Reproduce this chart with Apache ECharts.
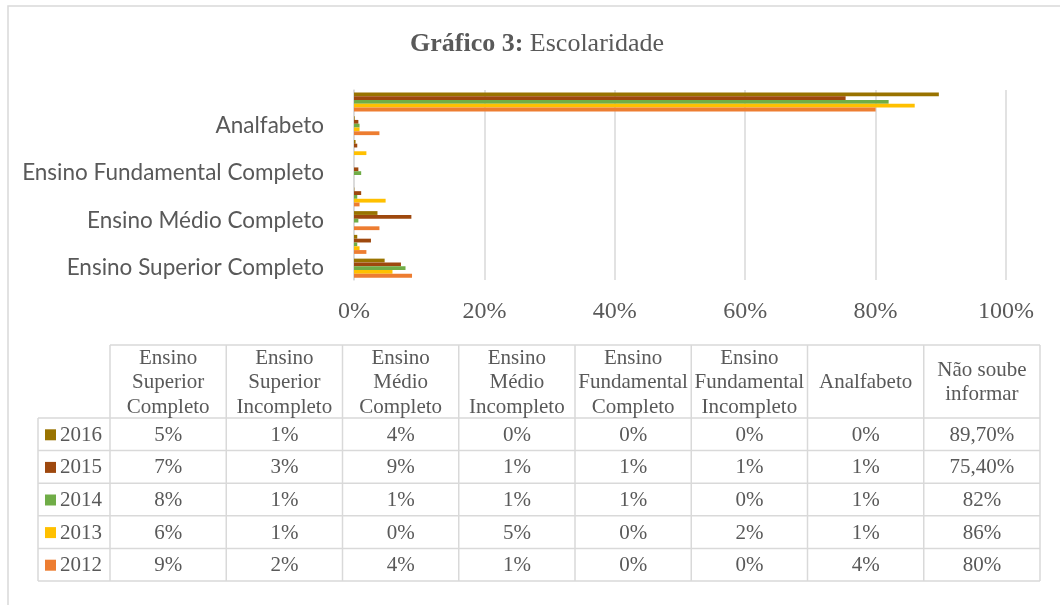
<!DOCTYPE html>
<html>
<head>
<meta charset="utf-8">
<script src="https://cdn.jsdelivr.net/npm/echarts@6/dist/echarts.min.js"></script>
<style>
  html, body { margin: 0; padding: 0; background: #fff; }
  #chart { width: 1060px; height: 605px; }
</style>
</head>
<body>
<div id="chart"></div>
<script>
  // categorias (de baixo para cima no gráfico)
  const categories = ['Ensino Superior Completo', 'Ensino Superior Incompleto', 'Ensino Médio Completo', 'Ensino Médio Incompleto',
    'Ensino Fundamental Completo', 'Ensino Fundamental Incompleto', 'Analfabeto', 'Não soube informar'];
  const tableHeaders = ['Ensino\nSuperior\nCompleto', 'Ensino\nSuperior\nIncompleto', 'Ensino\nMédio\nCompleto', 'Ensino\nMédio\nIncompleto',
    'Ensino\nFundamental\nCompleto', 'Ensino\nFundamental\nIncompleto', 'Analfabeto', 'Não soube\ninformar'];
  // ordem de cima para baixo dentro de cada grupo
  const years = ['2016', '2015', '2014', '2013', '2012'];
  const colors = ['#997300', '#9E480E', '#70AD47', '#FFC000', '#ED7D31'];

  const v2016 = [4.7, 0.5, 3.6, 0.05, 0, 0.24, 0.1, 89.7];
  const v2015 = [7.2, 2.6, 8.8, 1.1, 0.67, 0.5, 0.67, 75.4];
  const v2014 = [7.9, 0.5, 0.67, 0.5, 1.1, 0, 0.85, 82.0];
  const v2013 = [5.9, 0.85, 0, 4.85, 0, 1.9, 0.85, 86.0];
  const v2012 = [8.9, 1.9, 3.9, 0.85, 0, 0, 3.9, 80.0];
  const values = [v2016, v2015, v2014, v2013, v2012];

  // texto da tabela de dados
  const t2016 = ['5%', '1%', '4%', '0%', '0%', '0%', '0%', '89,70%'];
  const t2015 = ['7%', '3%', '9%', '1%', '1%', '1%', '1%', '75,40%'];
  const t2014 = ['8%', '1%', '1%', '1%', '1%', '0%', '1%', '82%'];
  const t2013 = ['6%', '1%', '0%', '5%', '0%', '2%', '1%', '86%'];
  const t2012 = ['9%', '2%', '4%', '1%', '0%', '0%', '4%', '80%'];
  const tableText = [t2016, t2015, t2014, t2013, t2012];

  const xTicks = [0, 20, 40, 60, 80, 100];

  const serif = "'Liberation Serif', 'Times New Roman', serif";
  const textColor = '#595959';
  const lineColor = '#d9d9d9';

  // tabela
  const tLeft = 110, colW = 116.25, hTop = 345, hBottom = 418, rowH = 32.6, keyLeft = 38;
  const graphic = [];
  graphic.push({ type: 'rect', shape: { x: 8, y: 6, width: 1200, height: 800 }, style: { fill: 'none', stroke: lineColor, lineWidth: 1.5 }, silent: true });
  const tRight = tLeft + colW * tableHeaders.length;
  const tBottom = hBottom + rowH * years.length;
  const line = (x1, y1, x2, y2) => graphic.push({ type: 'line', shape: { x1, y1, x2, y2 }, style: { stroke: lineColor, lineWidth: 1.5 }, silent: true });
  line(tLeft, hTop, tRight, hTop);
  for (let i = 0; i <= tableHeaders.length; i++) {
    const x = tLeft + colW * i;
    line(x, hTop, x, tBottom);
  }
  line(keyLeft, hBottom, keyLeft, tBottom);
  for (let r = 0; r <= years.length; r++) {
    const y = hBottom + rowH * r;
    line(keyLeft, y, tRight, y);
  }
  tableHeaders.forEach((h, i) => {
    graphic.push({ type: 'text', silent: true, style: {
      text: h, x: tLeft + colW * (i + 0.5), y: (hTop + hBottom) / 2 + 1, align: 'center', verticalAlign: 'middle',
      fill: textColor, font: '21px ' + serif, lineHeight: 24.5 } });
  });
  years.forEach((yr, r) => {
    const yc = hBottom + rowH * (r + 0.5) + 1;
    graphic.push({ type: 'rect', silent: true, shape: { x: 45, y: yc - 6, width: 11, height: 11 }, style: { fill: colors[r] } });
    graphic.push({ type: 'text', silent: true, style: { text: yr, x: 60, y: yc, align: 'left', verticalAlign: 'middle', fill: textColor, font: '21px ' + serif } });
    tableText[r].forEach((t, i) => {
      graphic.push({ type: 'text', silent: true, style: { text: t, x: tLeft + colW * (i + 0.5), y: yc, align: 'center', verticalAlign: 'middle', fill: textColor, font: '21px ' + serif } });
    });
  });

  const chart = echarts.init(document.getElementById('chart'));
  chart.setOption({
    animation: false,
    backgroundColor: '#fff',
    title: {
      text: '{b|Gráfico 3:} Escolaridade',
      left: 405,
      top: 26,
      textStyle: {
        fontFamily: serif, fontSize: 26, fontWeight: 'normal', color: textColor,
        rich: { b: { fontFamily: serif, fontSize: 26, fontWeight: 'bold', color: textColor } }
      }
    },
    grid: { left: 354, right: 54, top: 90, bottom: 325 },
    xAxis: {
      type: 'value', min: xTicks[0], max: xTicks[xTicks.length - 1], interval: 20,
      axisLine: { show: false }, axisTick: { show: false },
      splitLine: { lineStyle: { color: lineColor, width: 1.5 } },
      axisLabel: { formatter: '{value}%', color: textColor, fontFamily: serif, fontSize: 24, margin: 20 }
    },
    yAxis: {
      type: 'category', data: categories,
      axisTick: { show: false },
      axisLine: { lineStyle: { color: lineColor, width: 1.5 } },
      axisLabel: { interval: 1, color: textColor, fontFamily: 'Lato', fontSize: 22.5, margin: 30 }
    },
    series: years.map((y, i) => ({
      name: y, type: 'bar', data: values[i], barGap: 0, barCategoryGap: '20%',
      itemStyle: { color: colors[i] }
    })),
    graphic: graphic
  });
</script>
</body>
</html>
